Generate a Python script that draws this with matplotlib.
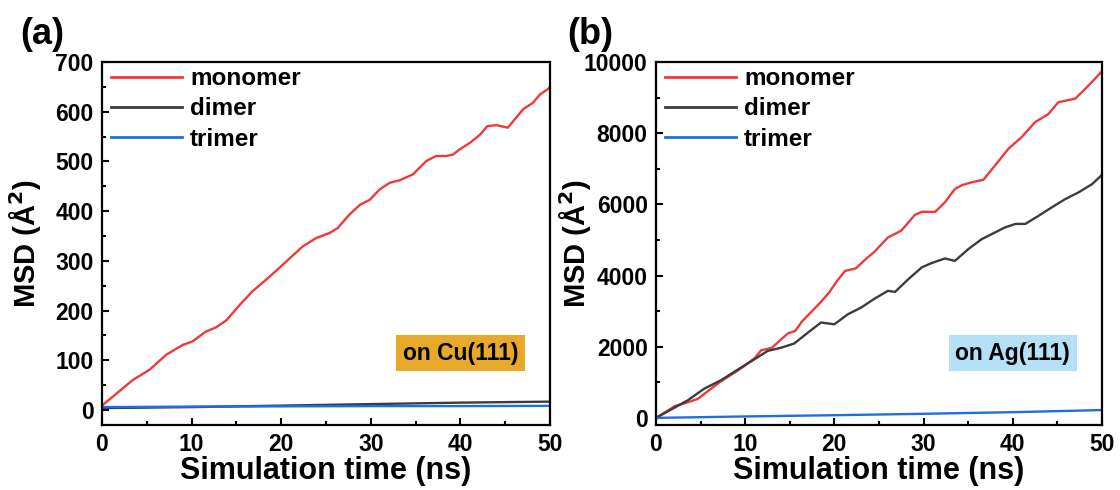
import matplotlib
matplotlib.use("Agg")
import matplotlib.pyplot as plt
from matplotlib.ticker import MultipleLocator

plt.rcParams['font.family'] = ['Liberation Sans', 'DejaVu Sans']
plt.rcParams['font.weight'] = 'bold'
plt.rcParams['mathtext.default'] = 'bf'

# ---- data: panel (a) Cu(111) ----
cu_mono_t = [0, 0.07, 3.4, 5.3, 7.15, 9.0, 10.1, 11.6, 12.7, 13.9, 15.4, 16.8, 18.3, 19.8, 21.0,
             22.4, 23.9, 25.4, 26.3, 27.6, 28.8, 29.9, 31.0, 32.1, 33.2, 34.7, 36.2, 37.3, 38.4,
             39.2, 39.9, 41.1, 42.2, 43.0, 44.0, 45.3, 45.9, 47.0, 48.1, 48.9, 49.8, 50]
cu_mono_v = [5, 10, 60, 81, 111, 131, 138, 158, 166, 181, 212, 239, 262, 286, 306,
             329, 346, 356, 366, 393, 413, 423, 444, 457, 462, 474, 501, 511, 511,
             514, 524, 538, 554, 571, 573, 568, 581, 605, 618, 635, 646, 650]
cu_dim_t = [0, 10, 20, 30, 40, 50]
cu_dim_v = [4, 6, 9, 12, 15, 17]
cu_tri_t = [0, 10, 20, 30, 40, 50]
cu_tri_v = [6, 7, 7.5, 8, 8, 8.5]

# ---- data: panel (b) Ag(111) ----
ag_mono_t = [0, 2.1, 3.6, 4.7, 5.8, 7.3, 8.8, 9.9, 11.1, 11.8, 13.0, 14.0, 14.8, 15.6, 16.4,
             17.5, 18.6, 19.4, 20.3, 21.2, 22.4, 23.5, 24.5, 26.0, 27.5, 29.0, 29.8, 31.3,
             32.4, 33.5, 34.3, 35.4, 36.7, 38.0, 39.5, 41.0, 42.5, 44.0, 45.1, 47.0, 48.5, 50]
ag_mono_v = [0, 330, 440, 535, 750, 1030, 1270, 1455, 1690, 1900, 1970, 2200, 2375, 2440, 2720,
             3000, 3290, 3520, 3850, 4130, 4200, 4460, 4670, 5070, 5260, 5700, 5790, 5790,
             6060, 6430, 6540, 6620, 6690, 7090, 7560, 7890, 8310, 8540, 8870, 8970, 9340, 9740]
ag_dim_t = [0, 1.7, 3.6, 5.4, 7.3, 9.5, 11.0, 12.5, 14.0, 15.5, 17.0, 18.5, 20.0, 21.5, 23.0,
            24.5, 26.0, 26.8, 28.3, 29.8, 30.9, 32.4, 33.5, 35.0, 36.5, 38.0, 39.1, 40.3,
            41.4, 42.9, 44.4, 45.9, 47.4, 48.9, 50]
ag_dim_v = [0, 235, 500, 820, 1060, 1410, 1640, 1880, 1970, 2090, 2390, 2680, 2630, 2910, 3100,
            3350, 3570, 3540, 3900, 4230, 4350, 4480, 4410, 4740, 5020, 5210, 5350, 5450,
            5450, 5680, 5920, 6150, 6340, 6570, 6830]
ag_tri_t = [0, 10, 20, 30, 40, 50]
ag_tri_v = [0, 40, 75, 115, 160, 220]

series_labels = ['monomer', 'dimer', 'trimer']
colors = ['#F03A3A', '#3C3C3C', '#1E6FE0']

fig = plt.figure(figsize=(11.2, 4.9), dpi=100)
W, H = 1120, 490
axL = fig.add_axes([102/W, 1-425/H, 448/W, 363/H])
axR = fig.add_axes([656/W, 1-425/H, 446/W, 363/H])

def style(ax, ylim, major, minor):
    ax.set_xlim(0, 50)
    ax.set_ylim(*ylim)
    ax.xaxis.set_major_locator(MultipleLocator(10))
    ax.xaxis.set_minor_locator(MultipleLocator(5))
    ax.yaxis.set_major_locator(MultipleLocator(major))
    ax.yaxis.set_minor_locator(MultipleLocator(minor))
    ax.tick_params(which='both', direction='in', top=False, right=False, width=1.5)
    ax.tick_params(which='major', length=5, labelsize=16.5, pad=6)
    ax.tick_params(which='minor', length=3)
    for s in ax.spines.values():
        s.set_linewidth(1.6)
    for lab in ax.get_xticklabels() + ax.get_yticklabels():
        lab.set_fontweight('bold')
    ax.set_xlabel('Simulation time (ns)', fontsize=22, fontweight='bold', labelpad=0)
    ax.set_ylabel('MSD (Å$^{2}$)', fontsize=21, fontweight='bold')

for ax, data, ylim, major, minor, badge, bcol in [
    (axL, [(cu_mono_t, cu_mono_v), (cu_dim_t, cu_dim_v), (cu_tri_t, cu_tri_v)],
     (-30, 700), 100, 50, 'on Cu(111)', '#E8A92A'),
    (axR, [(ag_mono_t, ag_mono_v), (ag_dim_t, ag_dim_v), (ag_tri_t, ag_tri_v)],
     (-200, 10000), 2000, 1000, 'on Ag(111)', '#B5E1F7'),
]:
    for (t, v), lab, c in zip(data, series_labels, colors):
        ax.plot(t, v, color=c, lw=1.7, label=lab)
    style(ax, ylim, major, minor)
    leg = ax.legend(loc='upper left', bbox_to_anchor=(-0.004, 1.016), frameon=False,
                    handlelength=2.9, handletextpad=0.35, labelspacing=0.3,
                    borderaxespad=0.1, borderpad=0.35,
                    prop={'weight': 'bold', 'size': 17.5})
    for line in leg.get_lines():
        line.set_linewidth(2.0)
    ax.text(0.80, 0.198, badge, transform=ax.transAxes, ha='center', va='center',
            fontsize=16.5, fontweight='bold',
            bbox=dict(boxstyle='square,pad=0.28', fc=bcol, ec='none'))

axL.yaxis.set_label_coords(-0.132, 0.5)
axR.yaxis.set_label_coords(-0.141, 0.5)
fig.text(20/W, 1-35/H, '(a)', fontsize=26, fontweight='bold', va='center', ha='left')
fig.text(567/W, 1-35/H, '(b)', fontsize=26, fontweight='bold', va='center', ha='left')

fig.savefig('out.png', dpi=100)
